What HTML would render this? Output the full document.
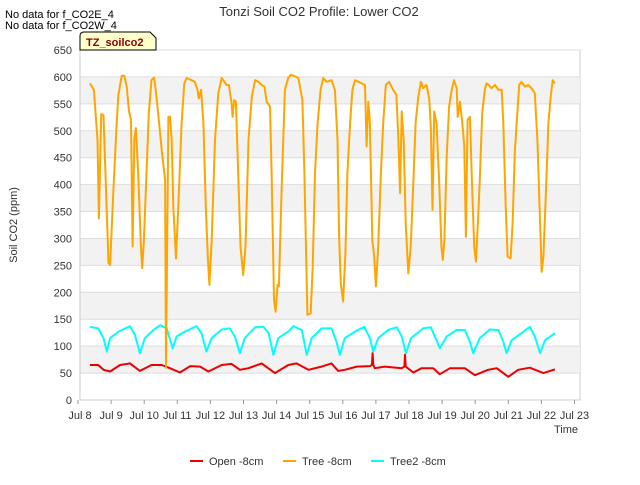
<!DOCTYPE html>
<html><head><meta charset="utf-8"><style>
body{margin:0;background:#fff;width:640px;height:480px;overflow:hidden;font-family:"Liberation Sans",sans-serif}
svg text{font-family:"Liberation Sans",sans-serif}
</style></head><body>
<svg id="chart" width="640" height="480" xmlns="http://www.w3.org/2000/svg">
<text x="319" y="16" text-anchor="middle" font-size="13" fill="#333">Tonzi Soil CO2 Profile: Lower CO2</text>
<text x="5" y="18" font-size="11" fill="#000">No data for f_CO2E_4</text>
<text x="5" y="29" font-size="11" fill="#000">No data for f_CO2W_4</text>
<g id="plot"></g>
<g>
<path d="M80,50 L80,36 Q80,32 84,32 L150,32 L156,38 L156,50 Z" fill="#ffffcc" stroke="#000"/>
<text x="86" y="46" font-size="11" font-weight="bold" fill="#8b0000">TZ_soilco2</text>
</g>
<text x="0" y="0" transform="translate(17,225) rotate(-90)" text-anchor="middle" font-size="11" fill="#333">Soil CO2 (ppm)</text>
<text x="566" y="433" text-anchor="middle" font-size="11" fill="#333">Time</text>
<g>
<g><line x1="190" y1="461" x2="203" y2="461" stroke="#e00" stroke-width="2"/><text x="209" y="465" font-size="11" fill="#333">Open -8cm</text></g>
<g><line x1="283" y1="461" x2="296" y2="461" stroke="orange" stroke-width="2"/><text x="302" y="465" font-size="11" fill="#333">Tree -8cm</text></g>
<g><line x1="371" y1="461" x2="384" y2="461" stroke="cyan" stroke-width="2"/><text x="390" y="465" font-size="11" fill="#333">Tree2 -8cm</text></g>
</g>
</svg>
<script>
const yTicks=[0,50,100,150,200,250,300,350,400,450,500,550,600,650];
const xTickDays=[8,9,10,11,12,13,14,15,16,17,18,19,20,21,22,23];
const xTickLabels=["Jul 8","Jul 9","Jul 10","Jul 11","Jul 12","Jul 13","Jul 14","Jul 15","Jul 16","Jul 17","Jul 18","Jul 19","Jul 20","Jul 21","Jul 22","Jul 23"];
const treeT=[8.36,8.48,8.59,8.63,8.70,8.77,8.92,8.97,9.07,9.17,9.22,9.32,9.40,9.47,9.54,9.60,9.65,9.70,9.75,9.82,9.90,9.94,9.99,10.07,10.14,10.22,10.30,10.36,10.45,10.55,10.63,10.66,10.73,10.78,10.83,10.88,10.96,11.03,11.13,11.21,11.28,11.43,11.53,11.61,11.65,11.72,11.79,11.86,11.92,11.97,12.04,12.14,12.24,12.34,12.49,12.56,12.64,12.67,12.72,12.77,12.84,12.91,12.99,13.06,13.15,13.25,13.35,13.45,13.55,13.63,13.70,13.80,13.85,13.92,13.97,14.03,14.07,14.15,14.25,14.35,14.43,14.56,14.66,14.78,14.84,14.93,15.03,15.09,15.16,15.24,15.33,15.41,15.51,15.66,15.76,15.84,15.89,15.94,16.01,16.08,16.14,16.22,16.29,16.37,16.47,16.57,16.67,16.72,16.77,16.82,16.89,16.95,17.00,17.07,17.15,17.22,17.30,17.40,17.52,17.62,17.68,17.73,17.78,17.84,17.90,17.98,18.05,18.13,18.20,18.28,18.36,18.43,18.53,18.61,18.66,18.71,18.76,18.83,18.91,18.98,19.02,19.07,19.14,19.21,19.29,19.36,19.44,19.47,19.54,19.61,19.67,19.72,19.77,19.84,19.91,19.97,20.02,20.07,20.14,20.21,20.29,20.34,20.41,20.49,20.60,20.70,20.80,20.85,20.92,20.98,21.07,21.13,21.20,21.27,21.33,21.40,21.50,21.60,21.70,21.80,21.88,21.96,22.01,22.06,22.14,22.21,22.28,22.34,22.41];
const treeV=[588,576,483,337,531,529,254,251,390,514,567,602,602,582,536,520,285,483,505,421,285,245,297,421,533,594,599,570,514,452,409,60,526,526,483,359,263,359,514,588,598,594,591,576,560,576,514,359,266,214,297,483,570,598,585,585,551,526,557,554,421,285,232,285,483,563,594,591,585,582,554,545,421,186,164,214,211,390,576,598,604,601,598,557,421,158,161,248,421,514,576,598,591,594,576,483,297,217,183,272,421,514,576,594,591,588,585,471,554,514,297,266,211,285,421,514,585,591,576,567,483,384,536,483,328,235,285,402,514,563,591,579,585,560,508,353,536,514,409,285,260,297,452,545,576,594,579,526,554,514,471,303,520,526,390,285,257,313,409,533,576,588,585,579,585,576,576,514,359,266,263,328,464,529,585,591,582,585,579,570,483,328,238,266,390,514,563,594,588];
const tree2T=[8.36,8.61,8.77,8.87,8.97,9.22,9.57,9.72,9.87,10.02,10.28,10.48,10.68,10.86,10.98,11.23,11.58,11.73,11.88,12.04,12.34,12.59,12.74,12.89,13.04,13.35,13.60,13.76,13.90,14.05,14.35,14.51,14.76,14.91,15.06,15.36,15.66,15.81,15.91,16.06,16.37,16.65,16.82,16.92,17.07,17.37,17.63,17.78,17.91,18.06,18.43,18.66,18.83,18.93,19.14,19.44,19.69,19.84,19.94,20.14,20.44,20.70,20.85,20.95,21.10,21.40,21.65,21.80,21.96,22.11,22.41];
const tree2V=[136,133,115,90,115,127,137,121,87,115,130,139,133,96,118,127,137,124,90,115,131,133,118,87,115,135,136,124,84,115,127,137,130,84,115,133,133,108,84,115,127,136,115,90,115,130,135,118,87,115,133,135,111,96,118,130,130,108,87,115,131,130,108,87,111,124,136,118,87,111,124];
const openT=[8.36,8.61,8.77,8.97,9.27,9.57,9.87,10.22,10.53,10.78,11.08,11.39,11.69,11.94,12.34,12.64,12.89,13.15,13.55,13.95,14.35,14.60,14.96,15.36,15.66,15.86,16.06,16.42,16.82,16.88,16.90,16.92,16.97,17.27,17.78,17.86,17.88,17.90,18.13,18.38,18.73,18.93,19.24,19.69,19.99,20.39,20.65,21.00,21.30,21.65,22.06,22.41];
const openV=[65,65,56,53,65,68,54,65,65,59,51,63,62,53,65,67,56,59,68,50,65,68,56,62,68,54,56,62,63,65,87,65,59,62,59,62,84,62,51,59,59,48,59,59,46,56,59,43,56,60,50,57];

const NS="http://www.w3.org/2000/svg";
const L=80,R=580,T=50,B=400;
const xs=d=>78+33.1*(d-8);
const ys=v=>B-(v/650)*(B-T);
const g=document.getElementById('plot');
function mk(tag,attrs){const e=document.createElementNS(NS,tag);for(const k in attrs)e.setAttribute(k,attrs[k]);g.appendChild(e);return e;}
const bg=mk('rect',{x:L,y:T,width:R-L,height:B-T,fill:'#fff',stroke:'#ccc'});


for(let i=0;i<yTicks.length-1;i++){
  if(i%2===1){
    const b=mk('rect',{x:L,y:ys(yTicks[i+1]),width:R-L,height:ys(yTicks[i])-ys(yTicks[i+1]),fill:'#f2f2f2'});
    
    
  }
}
yTicks.forEach(v=>{
  const ln=mk('line',{x1:L,x2:R,y1:ys(v),y2:ys(v),stroke:'#ddd'});
  
  
  const t=mk('text',{x:72,y:ys(v)+4,'text-anchor':'end','font-size':11,fill:'#333'});
  t.textContent=v;
  
  
});
mk('line',{x1:L,x2:L,y1:T,y2:B,stroke:'#ccc'});
mk('line',{x1:L,x2:R,y1:B,y2:B,stroke:'#ccc'});
xTickDays.forEach((d,i)=>{
  const x=xs(d);
  const tk=mk('line',{x1:x,x2:x,y1:B,y2:B+4,stroke:'#999'});
  
  
  const t=mk('text',{x:Math.max(x,80),y:B+19,'text-anchor':'middle','font-size':11,fill:'#333'});
  t.textContent=xTickLabels[i];
  
  
});
function series(tArr,vArr,color,name){
  const d=tArr.map((t,i)=>(i?'L':'M')+xs(t).toFixed(1)+','+ys(vArr[i]).toFixed(1)).join(' ');
  const p=mk('path',{d:d,fill:'none',stroke:color,'stroke-width':2,'stroke-linejoin':'round'});
  
  
}
series(tree2T,tree2V,'cyan','tree2-line');
series(openT,openV,'#e00','open-line');
series(treeT,treeV,'orange','tree-line');
</script>
</body></html>
